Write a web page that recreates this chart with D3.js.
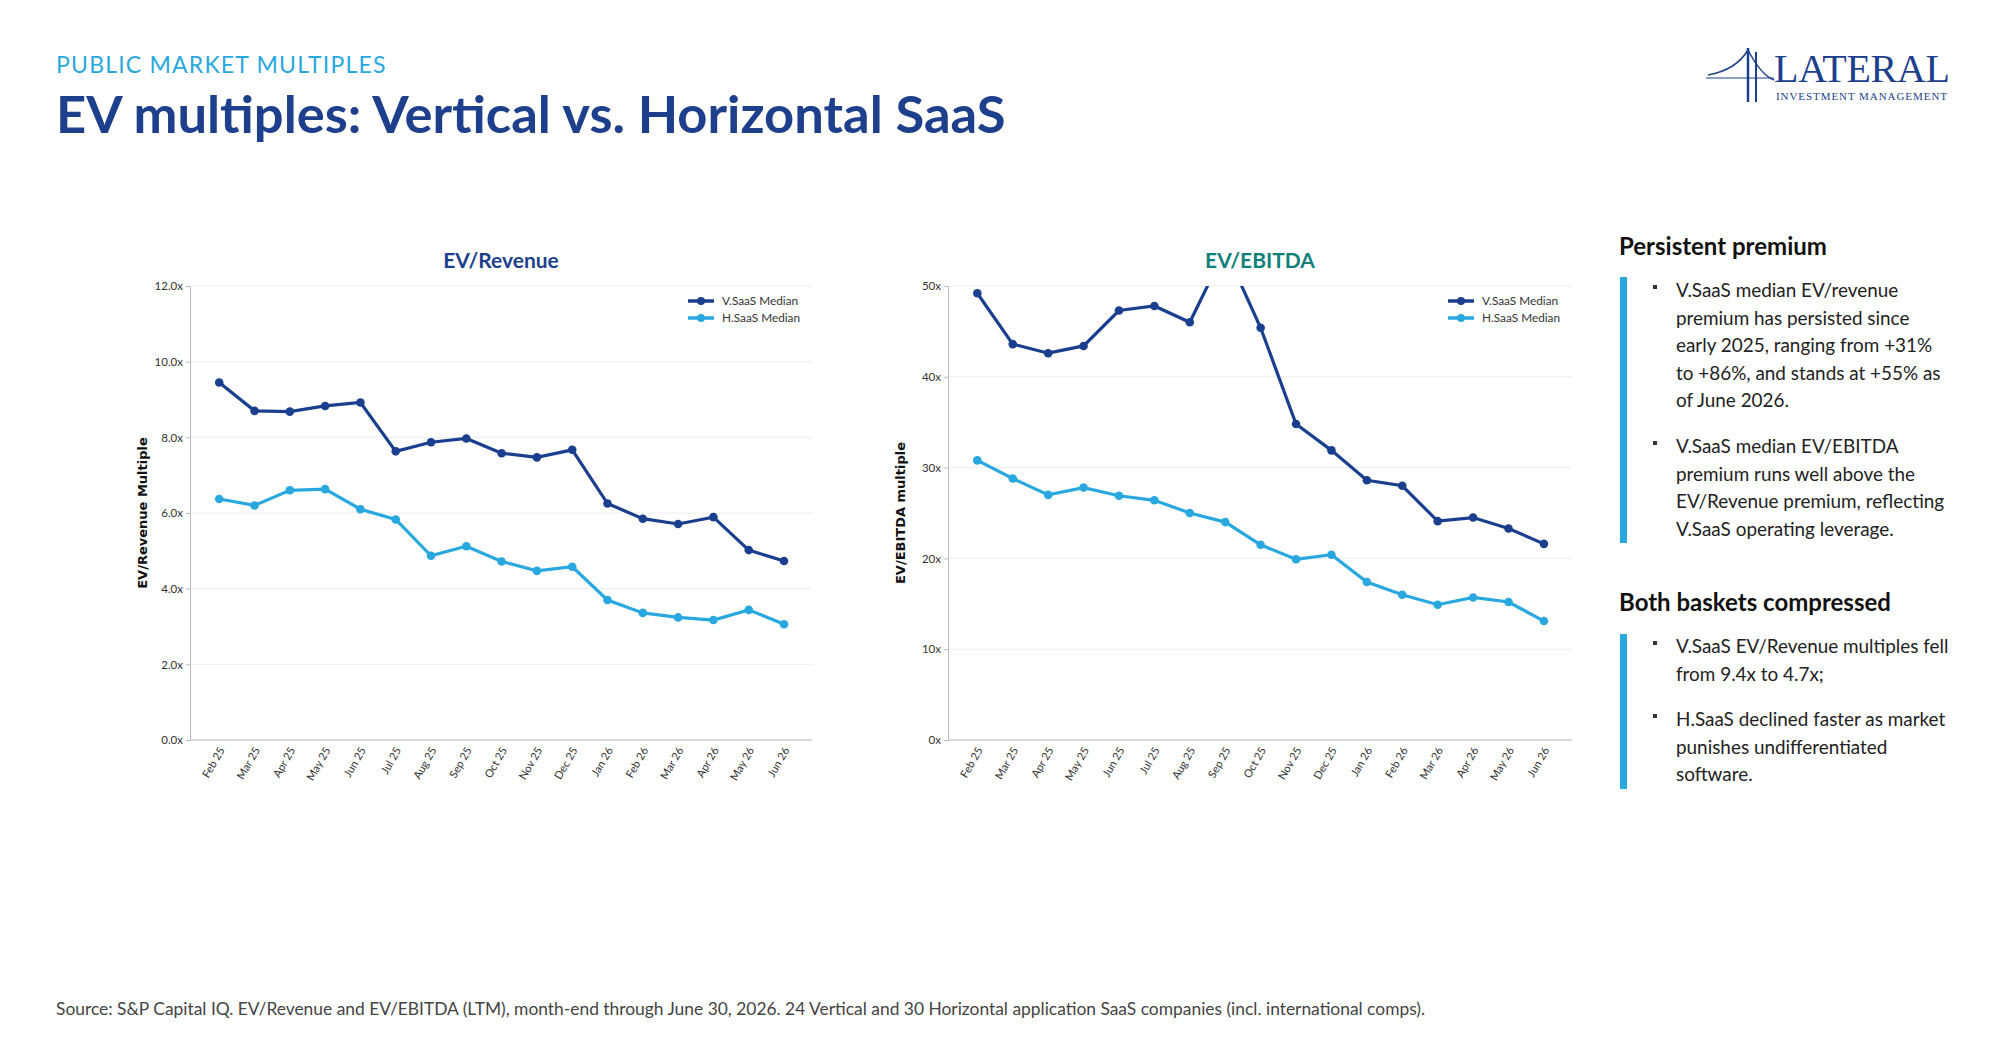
<!DOCTYPE html>
<html><head><meta charset="utf-8">
<script src="https://cdn.jsdelivr.net/npm/d3@7"></script>
<style>body{margin:0;background:#fff;font-family:Lato,"Open Sans",sans-serif}</style>
</head><body>
<svg id="c" width="2001" height="1038"></svg>
<script>
const months=["Feb 25","Mar 25","Apr 25","May 25","Jun 25","Jul 25","Aug 25","Sep 25","Oct 25","Nov 25","Dec 25","Jan 26","Feb 26","Mar 26","Apr 26","May 26","Jun 26"];
const revV=[9.45,8.7,8.68,8.83,8.92,7.63,7.87,7.97,7.58,7.47,7.67,6.25,5.85,5.71,5.89,5.02,4.73];
const revH=[6.37,6.2,6.6,6.63,6.1,5.83,4.87,5.12,4.72,4.47,4.58,3.7,3.36,3.24,3.17,3.44,3.06];
const ebV=[49.2,43.6,42.6,43.4,47.3,47.8,46.0,54,45.4,34.8,31.9,28.6,28.0,24.1,24.5,23.3,21.6];
const ebH=[30.8,28.8,27.0,27.8,26.9,26.4,25.0,24.0,21.5,19.9,20.4,17.4,16.0,14.9,15.7,15.2,13.1];
const revTicks=[0,2,4,6,8,10,12];
const ebTicks=[0,10,20,30,40,50];
const seriesNames=["V.SaaS Median","H.SaaS Median"];
const NAVY="#1b3f8f",LIGHT="#29a8e0";
const svg=d3.select("#c");
const F="Lato,'Open Sans',sans-serif";
svg.append("text").attr("x",56).attr("y",73).attr("font-size",23).attr("letter-spacing",1.2).attr("fill","#29a8e0").attr("font-family",F).text("PUBLIC MARKET MULTIPLES");
svg.append("text").attr("x",56).attr("y",133).attr("font-size",52.5).attr("font-weight","bold").attr("fill","#1d3f8c").attr("font-family",F).text("EV multiples: Vertical vs. Horizontal SaaS");
// logo
const lg=svg.append("g").attr("fill","#1d3f8c").attr("stroke","#1d3f8c");
lg.append("text").attr("x",1774).attr("y",82).attr("font-size",40).attr("font-family","'Liberation Serif',serif").attr("stroke","none").attr("textLength",176).text("LATERAL");
lg.append("text").attr("x",1776).attr("y",100).attr("font-size",11).attr("font-family","'Liberation Serif',serif").attr("stroke","none").attr("textLength",172).attr("letter-spacing",1).text("INVESTMENT MANAGEMENT");
lg.append("line").attr("x1",1748).attr("y1",48).attr("x2",1748).attr("y2",102).attr("stroke-width",2.5);
lg.append("line").attr("x1",1756).attr("y1",52).attr("x2",1756).attr("y2",102).attr("stroke-width",2);
lg.append("path").attr("d","M1708,75 Q1736,70 1748,50 Q1761,75 1774,80").attr("fill","none").attr("stroke-width",1.5);
lg.append("line").attr("x1",1706).attr("y1",78).attr("x2",1774).attr("y2",78).attr("stroke-width",1);

function chart(o){
  const g=svg.append("g");
  const x=d3.scalePoint().domain(months).range([o.x0+(o.x1-o.x0)*0.047,o.x0+(o.x1-o.x0)*0.955]);
  const y=d3.scaleLinear().domain([0,o.max]).range([740,286]);
  g.append("text").attr("x",(o.x0+o.x1)/2).attr("y",268).attr("text-anchor","middle").attr("font-size",21).attr("font-weight","bold").attr("fill",o.tc).attr("font-family",F).text(o.title);
  g.append("g").selectAll("line").data(o.ticks.slice(1)).join("line").attr("x1",o.x0).attr("x2",o.x1).attr("y1",d=>y(d)).attr("y2",d=>y(d)).attr("stroke","#eeeeee");
  const ya=g.append("g").attr("transform",`translate(${o.x0},0)`).call(d3.axisLeft(y).tickValues(o.ticks).tickFormat(o.fmt).tickSize(4));
  ya.select(".domain").attr("stroke","#bbb");ya.selectAll(".tick line").attr("stroke","#bbb");
  ya.selectAll("text").attr("font-size",11.5).attr("font-family",F).attr("fill","#333");
  const xa=g.append("g").attr("transform","translate(0,740)").call(d3.axisBottom(x).tickSize(0));
  xa.select(".domain").attr("d",`M${o.x0},0H${o.x1}`).attr("stroke","#bbb");
  xa.selectAll("text").attr("font-size",11).attr("font-family",F).attr("fill","#333").attr("text-anchor","end").attr("transform","translate(2,8) rotate(-60)").attr("dx",0).attr("dy","0.35em").attr("y",0);
  g.append("text").attr("transform",`translate(${o.x0-43},${(286+740)/2}) rotate(-90)`).attr("text-anchor","middle").attr("font-size",13).attr("font-weight","bold").attr("font-family","'DejaVu Sans',sans-serif").attr("fill","#111").text(o.ylab);
  const cid="clip"+o.title.replace(/\W/g,"");
  svg.append("clipPath").attr("id",cid).append("rect").attr("x",o.x0).attr("y",286).attr("width",o.x1-o.x0).attr("height",460);
  const pg=g.append("g").attr("clip-path",`url(#${cid})`);
  [[o.v,NAVY],[o.h,LIGHT]].forEach(([d,c])=>{
    pg.append("path").datum(d).attr("fill","none").attr("stroke",c).attr("stroke-width",3.2).attr("d",d3.line().x((v,i)=>x(months[i])).y(v=>y(v)));
    pg.selectAll(null).data(d).join("circle").attr("cx",(v,i)=>x(months[i])).attr("cy",v=>y(v)).attr("r",4.3).attr("fill",c);
  });
  const lx=o.x1-124;
  seriesNames.forEach((n,i)=>{
    const c=i?LIGHT:NAVY, ly=301+i*17;
    g.append("line").attr("x1",lx).attr("x2",lx+26).attr("y1",ly).attr("y2",ly).attr("stroke",c).attr("stroke-width",3.5);
    g.append("circle").attr("cx",lx+13).attr("cy",ly).attr("r",4).attr("fill",c);
    g.append("text").attr("x",lx+34).attr("y",ly+4).attr("font-size",11.8).attr("font-family",F).attr("fill","#333").text(n);
  });
}
chart({x0:190,x1:812,max:12,ticks:revTicks,fmt:d=>d.toFixed(1)+"x",v:revV,h:revH,title:"EV/Revenue",tc:"#1d3f8c",ylab:"EV/Revenue Multiple"});
chart({x0:948,x1:1572,max:50,ticks:ebTicks,fmt:d=>d+"x",v:ebV,h:ebH,title:"EV/EBITDA",tc:"#0f7f7a",ylab:"EV/EBITDA multiple"});

// side panel
const PX=1619;
const sections=[
 {h:"Persistent premium",hy:255,bar:[277,543],items:[["V.SaaS median EV/revenue","premium has persisted since","early 2025, ranging from +31%","to +86%, and stands at +55% as","of June 2026."],["V.SaaS median EV/EBITDA","premium runs well above the","EV/Revenue premium, reflecting","V.SaaS operating leverage."]],iy:[297,453]},
 {h:"Both baskets compressed",hy:611,bar:[634,789],items:[["V.SaaS EV/Revenue multiples fell","from 9.4x to 4.7x;"],["H.SaaS declined faster as market","punishes undifferentiated","software."]],iy:[653,726]}
];
sections.forEach(s=>{
  svg.append("text").attr("x",PX).attr("y",s.hy).attr("font-size",24).attr("font-weight","bold").attr("fill","#111").attr("font-family",F).text(s.h);
  svg.append("rect").attr("x",PX+1).attr("y",s.bar[0]).attr("width",7).attr("height",s.bar[1]-s.bar[0]).attr("fill","#29a8e0");
  s.items.forEach((lines,k)=>{
    svg.append("rect").attr("x",PX+34).attr("y",s.iy[k]-12).attr("width",4).attr("height",4).attr("fill","#333");
    lines.forEach((t,j)=>svg.append("text").attr("x",PX+57).attr("y",s.iy[k]+j*27.6).attr("font-size",18.9).attr("fill","#222").attr("font-family",F).text(t));
  });
});
svg.append("text").attr("x",56).attr("y",1015).attr("font-size",17.4).attr("fill","#444").attr("font-family",F).text("Source: S&P Capital IQ. EV/Revenue and EV/EBITDA (LTM), month-end through June 30, 2026. 24 Vertical and 30 Horizontal application SaaS companies (incl. international comps).");
</script></body></html>
